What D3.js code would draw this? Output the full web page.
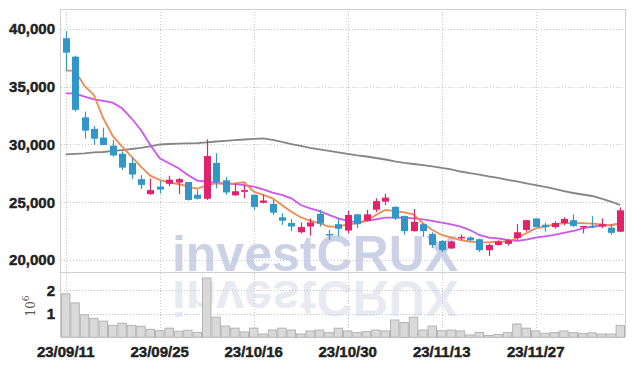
<!DOCTYPE html>
<html>
<head>
<meta charset="utf-8">
<script src="https://cdn.jsdelivr.net/npm/d3@7"></script>
<style>
  body { margin: 0; background: #fff; }
  svg text { font-family: "Liberation Sans Narrow", "Liberation Sans", sans-serif; }
</style>
</head>
<body>
<div id="chart"></div>
<script>
// trading days shown
const dates = ['23/09/11','23/09/12','23/09/13','23/09/14','23/09/15','23/09/18','23/09/19','23/09/20','23/09/21','23/09/22',
  '23/09/25','23/09/26','23/09/27','23/10/04','23/10/05','23/10/06','23/10/10','23/10/11','23/10/12','23/10/13',
  '23/10/16','23/10/17','23/10/18','23/10/19','23/10/20','23/10/23','23/10/24','23/10/25','23/10/26','23/10/27',
  '23/10/30','23/10/31','23/11/01','23/11/02','23/11/03','23/11/06','23/11/07','23/11/08','23/11/09','23/11/10',
  '23/11/13','23/11/14','23/11/15','23/11/16','23/11/17','23/11/20','23/11/21','23/11/22','23/11/23','23/11/24',
  '23/11/27','23/11/28','23/11/29','23/11/30','23/12/01','23/12/04','23/12/05','23/12/06','23/12/07','23/12/08']

const open  = [39200,37600,32350,31350,30600,29900,29200,28400,27000,25700, 26350,26600,26700,26750,25650,25300,28400,26900,25600,25900,
  25650,24950,24850,23700,23200,22400,22900,24000,22250,23100, 22550,23950,23400,24350,25050,24600,23800,22500,23100,22250,
  21650,21000,21950,21950,21800,20850,21300,21400,21900,22600, 23600,23050,22850,23200,23450,22850,22950,22900,22800,22450]
const high  = [39800,37700,32850,31600,31450,30400,29400,28850,27350,27050, 26850,27300,27100,26750,26050,30450,29250,27200,26650,26500,
  25700,25650,25200,24050,23550,23250,23600,24350,22600,23550, 24250,24000,24350,25350,25750,24650,23850,24400,23150,22400,
  21700,21650,22200,22050,21850,21400,21700,21800,23100,23450, 23600,23200,23350,23700,23950,22950,23800,23600,23100,24550]
const low   = [36400,32850,30500,29950,29950,28950,27800,27000,26150,25650, 25750,26400,25700,25150,25250,25200,26200,25650,25550,25350,
  24350,24900,23900,23050,22500,22300,22100,22900,21750,22050, 22300,22750,23350,24150,24750,23450,22200,22450,22000,21050,
  20700,20950,21750,21650,20700,20350,21250,21250,21750,22450, 22850,22450,22700,23000,22850,22300,22750,22750,22200,22400]
const close = [37950,33000,31200,30500,29950,29050,28000,27400,26500,26050, 26100,26950,27000,25200,25300,29000,26750,25850,25950,26050,
  24600,25150,24100,23400,22900,22850,23250,23150,22150,22700, 23900,23100,23950,25100,25400,23600,22500,23300,22500,21300,
  20850,21600,22000,21700,20850,21300,21600,21700,22400,23450, 22850,22850,23200,23550,22950,22950,22850,23100,22350,24300]

// volume, millions
const volume = [1.86,1.47,0.96,0.81,0.69,0.51,0.60,0.51,0.47,0.34, 0.28,0.39,0.26,0.30,0.21,2.53,0.86,0.48,0.39,0.23,
  0.39,0.14,0.31,0.39,0.31,0.14,0.27,0.31,0.20,0.39, 0.27,0.20,0.24,0.31,0.27,0.74,0.63,0.86,0.31,0.48,
  0.28,0.31,0.27,0.10,0.21,0.08,0.12,0.20,0.57,0.39, 0.27,0.17,0.20,0.27,0.20,0.16,0.19,0.14,0.14,0.51]

// moving averages
const ma5 = [36390,36390,35070,34290,32270,30740,29810,28950,28080,27300, 26930,26700,26580,26350,26170,26490,26640,26580,26640,26730,
  25920,25630,25340,24760,24180,23700,23400,23180,22890,22890, 23090,23180,23380,23900,24330,24240,24130,23960,23180,22600,
  22170,21940,21730,21590,21530,21530,21590,21590,21880,22310, 22740,22880,23090,23200,23200,23200,23140,23090,22970,23200]
const ma20 = [34430,34430,34140,33910,33770,33620,33130,32270,31260,29960, 28800,28370,27940,27360,26870,26780,26700,26640,26580,26490,
  26350,26120,25830,25630,25340,24760,24470,24240,23900,23610, 23380,23260,23380,23520,23660,23660,23660,23610,23520,23380,
  23230,23090,22890,22600,22170,21940,21880,21730,21650,21760, 21940,22050,22170,22340,22510,22740,22890,22970,23030,23140]
const ma120 = [29150,29190,29230,29310,29350,29440,29520,29610,29700,29830, 30000,30040,30070,30090,30110,30190,30260,30320,30370,30430,
  30480,30520,30390,30220,30040,29870,29700,29570,29440,29310, 29180,29050,28960,28830,28700,28530,28400,28310,28220,28100,
  27970,27840,27660,27530,27400,27230,27100,26930,26800,26640, 26490,26320,26150,25970,25800,25670,25540,25320,25060,24760]

const priceTicks = [20000, 25000, 30000, 35000, 40000]
const volTicks = [1, 2]
const dateTicks = ['23/09/11','23/09/25','23/10/16','23/10/30','23/11/13','23/11/27']

const W = 634, H = 366
const left = 61, right = 625
const pTop = 9, pBottom = 272, vBottom = 337.3

const svg = d3.select('#chart').append('svg')
  .attr('width', W)
  .attr('height', H)

const data = dates.map((d, i) => ({date: d, o: open[i], h: high[i], l: low[i], c: close[i], v: volume[i]}))

// scales
const x = d3.scaleBand().domain(dates).range([left, right]).padding(0)
const bw = x.bandwidth()
const cx = (d) => x(d) + bw / 2
const y = d3.scaleLinear().domain([18960, 41730]).range([pBottom, pTop])
const yv = d3.scaleLinear().domain([0, 2.79]).range([vBottom, pBottom])

// watermark + reflection
const wm = svg.append('g')
wm.append('text')
  .attr('x', 315).attr('y', 271)
  .attr('text-anchor', 'middle')
  .style('font-family', '"Liberation Sans", Arial, sans-serif')
  .style('font-weight', 'bold')
  .style('font-size', '50px')
  .attr('fill', '#ccd2e6')
  .text('investCRUX')
wm.append('text')
  .attr('x', 315).attr('y', 271)
  .attr('transform', 'translate(0, 552) scale(1, -1)')
  .attr('text-anchor', 'middle')
  .style('font-family', '"Liberation Sans", Arial, sans-serif')
  .style('font-weight', 'bold')
  .style('font-size', '50px')
  .attr('fill', '#e8eaf2')
  .text('investCRUX')

// grid
const grid = svg.append('g')
  .attr('stroke', '#c3c6d4')
  .attr('stroke-dasharray', '1,2')
grid.selectAll('.hp').data(priceTicks).enter().append('line')
  .attr('x1', left).attr('x2', right)
  .attr('y1', (d) => Math.round(y(d)) + 0.5).attr('y2', (d) => Math.round(y(d)) + 0.5)
grid.selectAll('.hv').data(volTicks).enter().append('line')
  .attr('x1', left).attr('x2', right)
  .attr('y1', (d) => Math.round(yv(d)) + 0.5).attr('y2', (d) => Math.round(yv(d)) + 0.5)
grid.selectAll('.vx').data(dateTicks).enter().append('line')
  .attr('x1', (d) => Math.round(cx(d)) + 0.5).attr('x2', (d) => Math.round(cx(d)) + 0.5)
  .attr('y1', pTop).attr('y2', vBottom)

// frame
const frame = svg.append('g').attr('stroke', '#cfcfcf').attr('fill', 'none')
frame.append('line').attr('x1', left - 0.5).attr('x2', left - 0.5).attr('y1', pTop).attr('y2', vBottom)
frame.append('line').attr('x1', right + 0.5).attr('x2', right + 0.5).attr('y1', pTop).attr('y2', vBottom)
frame.append('line').attr('x1', left).attr('x2', right).attr('y1', pTop + 0.5).attr('y2', pTop + 0.5)
frame.append('line').attr('x1', left).attr('x2', right).attr('y1', pBottom + 0.5).attr('y2', pBottom + 0.5)

// volume bars
svg.append('g').selectAll('rect')
  .data(data)
  .enter()
  .append('rect')
  .attr('x', (d) => x(d.date) + 0.5)
  .attr('width', bw - 1)
  .attr('y', (d) => yv(d.v))
  .attr('height', (d) => yv(0) - yv(d.v))
  .attr('fill', '#d9d9d9')
  .attr('stroke', '#b3b3b3')
  .attr('stroke-width', 1)

// moving average lines
const line = (arr) => d3.line()
  .x((d, i) => cx(dates[i]))
  .y((d) => y(d))(arr)

svg.append('path').attr('d', line(ma120)).attr('fill', 'none').attr('stroke', '#858585').attr('stroke-width', 1.8)
svg.append('path').attr('d', line(ma20)).attr('fill', 'none').attr('stroke', '#cc55ee').attr('stroke-width', 1.8)
svg.append('path').attr('d', line(ma5)).attr('fill', 'none').attr('stroke', '#ef8a50').attr('stroke-width', 1.8)

// candles
const up = '#e2226c', down = '#3196c9'
const candles = svg.append('g').selectAll('g')
  .data(data)
  .enter()
  .append('g')
candles.append('line')
  .attr('x1', (d) => Math.round(cx(d.date)) + 0.5)
  .attr('x2', (d) => Math.round(cx(d.date)) + 0.5)
  .attr('y1', (d) => y(d.h))
  .attr('y2', (d) => y(d.l))
  .attr('stroke', (d) => d.c >= d.o ? up : down)
  .attr('stroke-width', 1.2)
candles.append('rect')
  .attr('x', (d) => Math.round(cx(d.date)) - 3)
  .attr('width', 7)
  .attr('y', (d) => y(Math.max(d.o, d.c)))
  .attr('height', (d) => Math.max(1.5, Math.abs(y(d.o) - y(d.c))))
  .attr('fill', (d) => d.c >= d.o ? up : down)

// axes
const yAxis = d3.axisLeft(y).tickValues(priceTicks).tickFormat(d3.format(',')).tickSize(0).tickPadding(6)
const yAxisG = svg.append('g').attr('transform', `translate(${left}, 0)`).call(yAxis)
const vAxis = d3.axisLeft(yv).tickValues(volTicks).tickFormat(d3.format('d')).tickSize(0).tickPadding(6)
const vAxisG = svg.append('g').attr('transform', `translate(${left}, 0)`).call(vAxis)
const xAxis = d3.axisBottom(x).tickValues(dateTicks).tickSize(0).tickPadding(8)
const xAxisG = svg.append('g').attr('transform', `translate(0, ${vBottom})`).call(xAxis)

svg.selectAll('.domain').remove()
svg.selectAll('.tick text')
  .style('font-family', '"Liberation Sans Narrow", sans-serif')
  .style('font-weight', 'bold')
  .style('font-size', '15px')
  .attr('fill', '#222')
  .attr('stroke', '#222')
  .attr('stroke-width', 0.45)
xAxisG.selectAll('text').attr('dy', '0.75em')

// 10^6 label
const unit = svg.append('text')
  .attr('transform', 'translate(35, 306) rotate(-90)')
  .attr('text-anchor', 'middle')
  .style('font-family', '"DejaVu Serif", serif')
  .style('font-size', '12px')
  .attr('fill', '#555')
unit.append('tspan').text('10')
unit.append('tspan').attr('dy', -6).style('font-size', '9px').text('6')
</script>
</body>
</html>
